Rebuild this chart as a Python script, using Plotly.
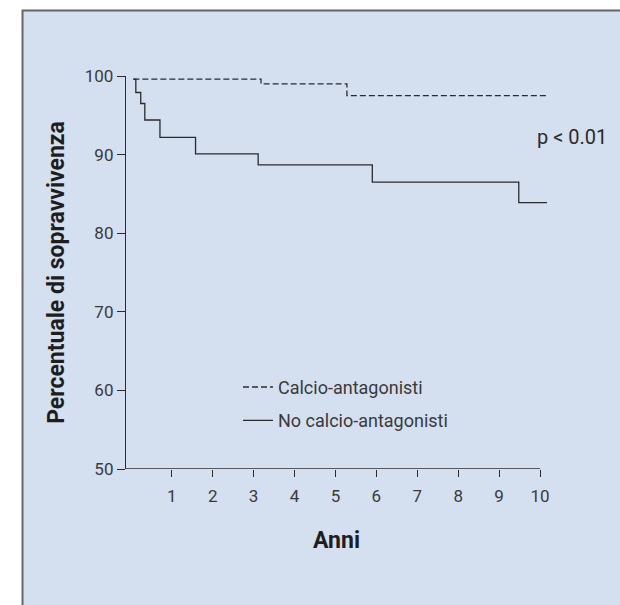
import plotly.graph_objects as go

# ---- data ----
calcio_x = [0.06, 3.18, 5.28, 10.17]
calcio_y = [99.6, 99.0, 97.5, 97.5]

no_calcio_x = [0.06, 0.12, 0.24, 0.34, 0.71, 1.58, 3.11, 5.90, 9.48, 10.17]
no_calcio_y = [99.6, 97.9, 96.5, 94.4, 92.2, 90.1, 88.7, 86.5, 83.9, 83.9]

x_ticks = [1, 2, 3, 4, 5, 6, 7, 8, 9, 10]
y_ticks = [50, 60, 70, 80, 90, 100]

series_names = ["Calcio-antagonisti", "No calcio-antagonisti"]

X_MIN, X_MAX = -0.12, 10.17
Y_MIN, Y_MAX = 50, 100

PANEL = "#d4dff0"
INK = "#2b2b2b"
FONT = "Roboto, Arial, sans-serif"

fig = go.Figure()
fig.add_trace(go.Scatter(
    x=calcio_x, y=calcio_y, mode="lines", line_shape="hv",
    name=series_names[0], legendgroup="a",
    line=dict(color=INK, width=1.3, dash="6px,3px"),
))
fig.add_trace(go.Scatter(
    x=no_calcio_x, y=no_calcio_y, mode="lines", line_shape="hv",
    name=series_names[1], legendgroup="b",
    line=dict(color=INK, width=1.3),
))

# panel background with frame (extends past the right and bottom edges)
fig.add_shape(type="rect", xref="paper", yref="paper",
              x0=-0.2458, x1=1.5, y0=-0.5, y1=1.1667,
              fillcolor=PANEL, line=dict(color="#666666", width=2),
              layer="below")
# x-axis baseline ending at the last tick
fig.add_shape(type="line", xref="x", yref="y",
              x0=X_MIN, x1=10, y0=Y_MIN, y1=Y_MIN,
              line=dict(color=INK, width=1.3))

fig.add_annotation(text="p &lt; 0.01", xref="paper", yref="paper",
                   x=0.972, y=0.845, xanchor="left", yanchor="middle",
                   showarrow=False, font=dict(family=FONT, size=20, color=INK))

fig.update_xaxes(
    range=[X_MIN, X_MAX], tickvals=x_ticks, ticktext=[str(v) for v in x_ticks],
    ticks="outside", ticklen=7, tickwidth=1.3, tickcolor=INK,
    ticklabelstandoff=5,
    showline=False, showgrid=False, zeroline=False,
    tickfont=dict(family=FONT, size=17, color="#3a3a3a"),
    title=dict(text="<b>Anni</b>", standoff=26,
               font=dict(family=FONT, size=23, color="#1e1e1e")),
)
fig.update_yaxes(
    range=[Y_MIN, Y_MAX], tickvals=y_ticks,
    ticks="outside", ticklen=8, tickwidth=1.3, tickcolor=INK,
    showline=True, linecolor=INK, linewidth=1.3,
    showgrid=False, zeroline=False,
    tickfont=dict(family=FONT, size=17, color="#3a3a3a"),
    title=dict(text="<b>Percentuale di sopravvivenza</b>", standoff=13,
               font=dict(family=FONT, size=23, color="#1e1e1e")),
)

fig.update_layout(
    width=620, height=605,
    margin=dict(l=126, r=73, t=76, b=136, autoexpand=False),
    paper_bgcolor="white", plot_bgcolor="rgba(0,0,0,0)",
    font=dict(family=FONT, color=INK),
    showlegend=True,
    legend=dict(x=0.266, y=0.255, xanchor="left", yanchor="top",
                bgcolor="rgba(0,0,0,0)", tracegroupgap=7,
                traceorder="grouped",
                font=dict(family=FONT, size=18, color="#3a3a3a")),
)

fig.write_html("out.html", config={"displayModeBar": False},
               post_script="document.body.style.margin='0';")
